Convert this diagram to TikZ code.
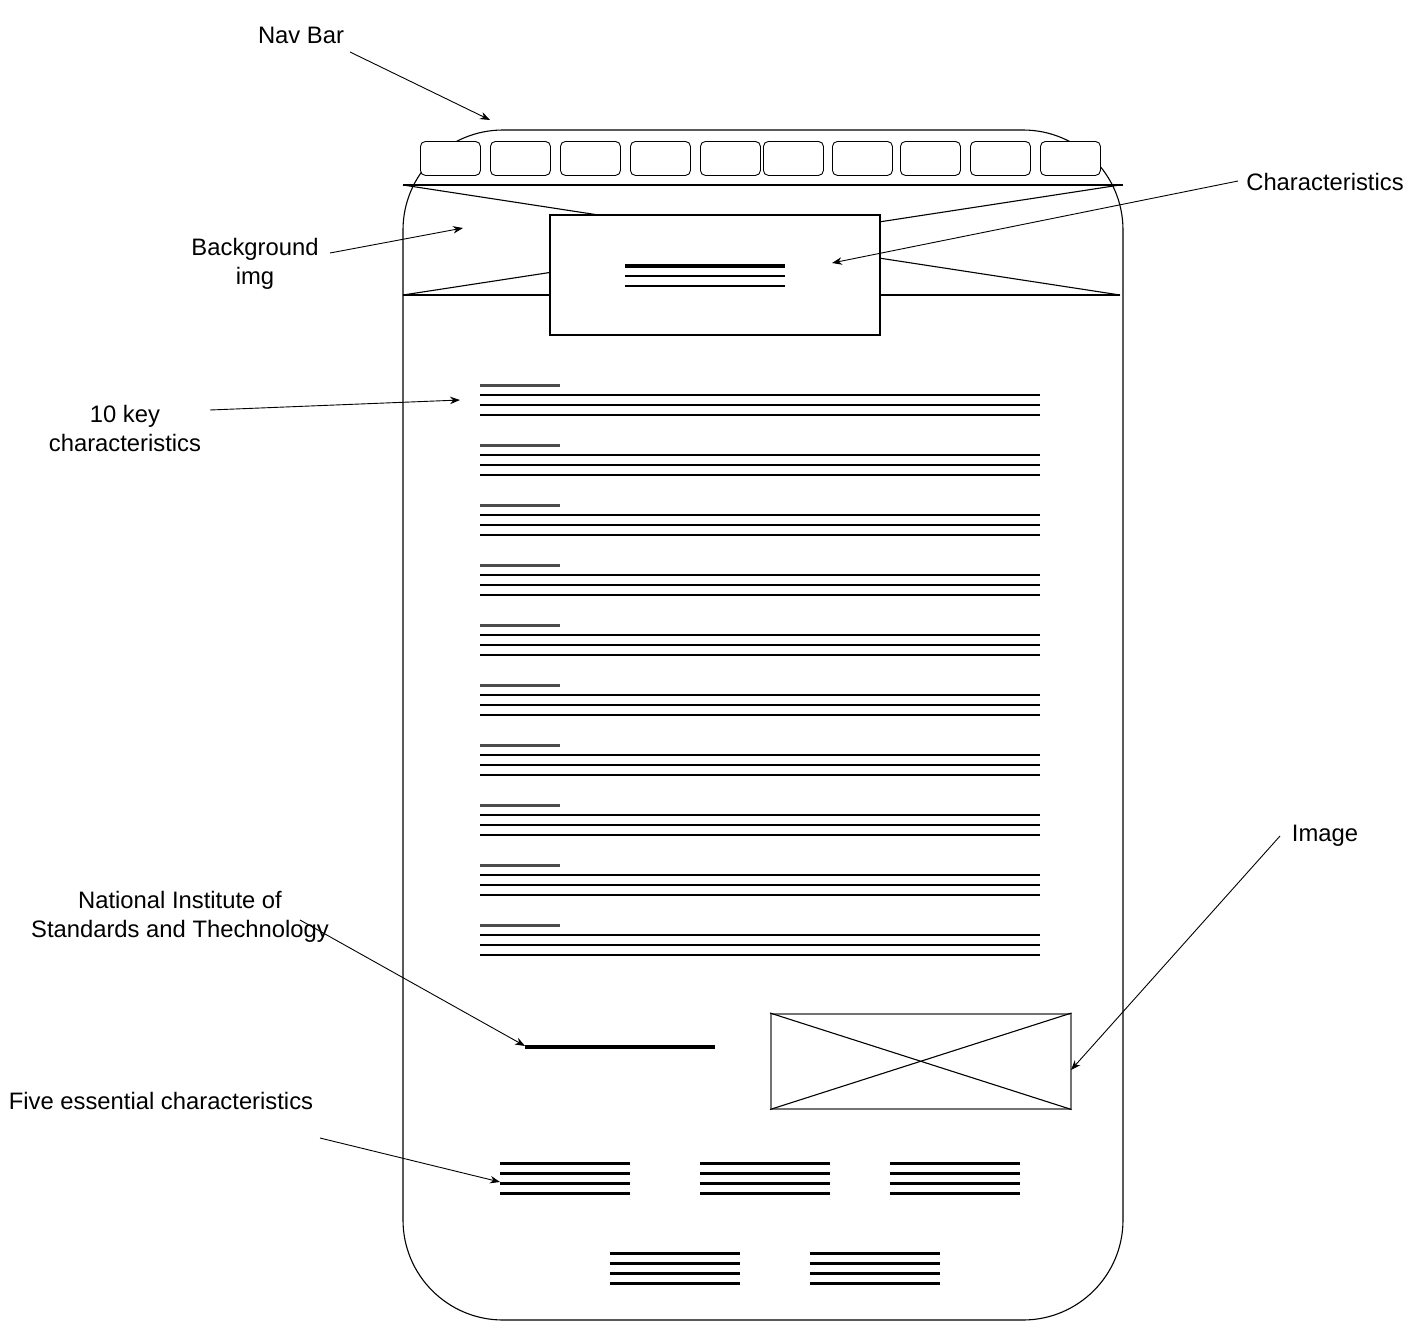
\documentclass[tikz,border=0pt]{standalone}
\usepackage{fontspec}
\setmainfont{Liberation Sans}
\usetikzlibrary{arrows.meta}
\begin{document}
\begin{tikzpicture}[x=1pt,y=-1pt,
  lbl/.style={font=\fontsize{23.8}{29}\selectfont, align=center, inner sep=0pt},
  conn/.style={draw=black, line width=0.9pt, -{Stealth[length=10pt,width=7.5pt]}},
  navbtn/.style={draw=black, fill=white, rounded corners=5pt, line width=0.9pt},
  thinln/.style={line width=1.6pt},
  headln/.style={line width=3pt, draw=black!70},
  blockln/.style={line width=3pt}
]
\useasboundingbox (0,0) rectangle (1406,1322);
% outer frame
\draw[line width=1.1pt, rounded corners=100pt] (403,130) rectangle (1123,1320);
% background image placeholder
\draw[line width=1.1pt] (403,185) -- (1120,295);
\draw[line width=1.1pt] (403,295) -- (1120,185);
\draw[line width=2pt] (403,185) -- (1123,185);
\draw[line width=2pt] (403,295) -- (1120,295);
% characteristics box
\node[draw=black, fill=white, line width=1.1pt, minimum width=330pt, minimum height=120pt, inner sep=0pt] (charbox) at (715,275) {};
\draw[line width=3.5pt] (625,266) -- (785,266);
\draw[line width=2pt] (625,276) -- (785,276);
\draw[line width=2pt] (625,286) -- (785,286);
% nav buttons
\foreach \x/\n in {420/1,490/2,560/3,630/4,700/5,763/6,832/7,900/8,970/9,1040/10} {
  \node[navbtn, minimum width=60pt, minimum height=34pt, inner sep=0pt, anchor=north west] (btn\n) at (\x,141) {};
}
% 10 key characteristics
\foreach \i in {0,...,9} {
  \pgfmathsetmacro{\yy}{385+60*\i}
  \draw[headln] (480,\yy) -- (560,\yy);
  \draw[thinln] (480,\yy+10) -- (1040,\yy+10);
  \draw[thinln] (480,\yy+20) -- (1040,\yy+20);
  \draw[thinln] (480,\yy+30) -- (1040,\yy+30);
}
% NIST line
\draw[line width=4pt] (525,1047) -- (715,1047);
\coordinate (nistEnd) at (525,1046);
% image placeholder
\node[draw=black!55, line width=1.5pt, minimum width=300pt, minimum height=95pt, inner sep=0pt, anchor=north west] (imgbox) at (770,1013) {};
\draw[line width=1.1pt] (imgbox.north west) -- (imgbox.south east);
\draw[line width=1.1pt] (imgbox.south west) -- (imgbox.north east);
% five essential characteristics
\foreach \x in {500,700,890} {
  \foreach \k in {0,...,3} {
    \draw[blockln] (\x,1163+10*\k) -- (\x+130,1163+10*\k);
  }
}
\foreach \x in {610,810} {
  \foreach \k in {0,...,3} {
    \draw[blockln] (\x,1253+10*\k) -- (\x+130,1253+10*\k);
  }
}
% targets
\coordinate (navT) at (490,120);
\coordinate (charT) at (832,263);
\coordinate (bgT) at (463,228);
\coordinate (keyT) at (460,400);
\coordinate (imgT) at (1071,1070);
\coordinate (fiveT) at (500,1182);
% labels
\node[lbl] (navlbl) at (301,35) {Nav Bar};
\node[lbl] (charlbl) at (1325,182) {Characteristics};
\node[lbl] (bglbl) at (255,264) {Background\\img};
\node[lbl] (keylbl) at (125,428) {10 key\\characteristics};
\node[lbl] (imglbl) at (1325,836) {Image};
\node[lbl] (nistlbl) at (180,917) {National Institute of\\Standards and Thechnology};
\node[lbl] (fivelbl) at (161,1101) {Five essential characteristics};
% connectors
\draw[conn] (350,52) -- (navT);
\draw[conn] (1238,181) -- (charT);
\draw[conn] (330,253) -- (bgT);
\draw[conn] (210,410) -- (keyT);
\draw[conn] (1280,836) -- (imgT);
\draw[conn] (300,920) -- (nistEnd);
\draw[conn] (320,1138) -- (fiveT);
\end{tikzpicture}
\end{document}
